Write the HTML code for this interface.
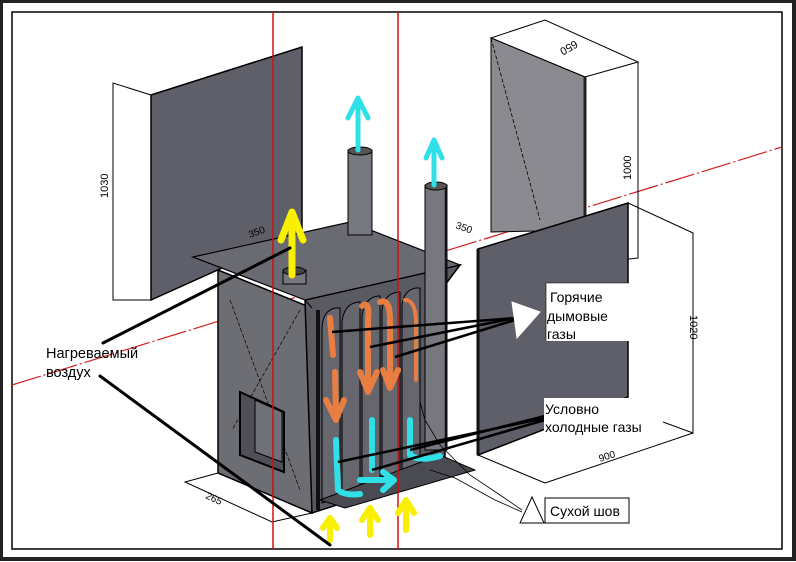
<!DOCTYPE html>
<html><head><meta charset="utf-8"><style>
html,body{margin:0;padding:0;background:#fff;}
svg{display:block;}
text{font-family:"Liberation Sans","DejaVu Sans",sans-serif;}
</style></head><body>
<svg width="796" height="562" viewBox="0 0 796 562" xmlns="http://www.w3.org/2000/svg">
<rect x="0" y="0" width="796" height="562" fill="#fff"/>
<rect x="1" y="1" width="793" height="558" fill="none" stroke="#222" stroke-width="4"/>
<rect x="12" y="12" width="770" height="537" fill="none" stroke="#000" stroke-width="1.5"/>

<line x1="12" y1="385" x2="782" y2="147" stroke="#d02020" stroke-width="1.2" stroke-dasharray="30,3,2,3"/>

<polygon points="151,95 302,47 302,232 151,300" fill="#5f5f69" stroke="#000" stroke-width="1.5"/>
<polyline points="151,95 113,83 113,300 151,300" fill="none" stroke="#000" stroke-width="1"/>
<text x="0" y="0" font-size="11" transform="translate(108,198) rotate(-90)" fill="#000">1030</text>

<polygon points="491,38 545,20 638,62 585,77" fill="#fff" stroke="#000" stroke-width="1"/>
<polygon points="491,38 585,77 585,230 491,232" fill="#8a8a90" stroke="#000" stroke-width="1"/>
<line x1="491" y1="38" x2="540" y2="220" stroke="#000" stroke-width="0.8" stroke-dasharray="4,2"/>
<line x1="585" y1="77" x2="585" y2="230" stroke="#222" stroke-width="3"/>
<polyline points="638,62 638,258 600,262" fill="none" stroke="#000" stroke-width="1"/>
<text x="0" y="0" font-size="11" transform="translate(575,40) rotate(150)" fill="#000">650</text>
<text x="0" y="0" font-size="11" transform="translate(631,180) rotate(-90)" fill="#000">1000</text>

<polygon points="478,249 628,203 628,397 478,455" fill="#5f5f69" stroke="#000" stroke-width="1.5"/>
<line x1="478" y1="249" x2="478" y2="455" stroke="#111" stroke-width="3"/>
<polyline points="628,203 693,233 693,433 663,422" fill="none" stroke="#000" stroke-width="1"/>
<polyline points="545,483 693,433" fill="none" stroke="#000" stroke-width="1"/>
<polyline points="478,455 545,483" fill="none" stroke="#000" stroke-width="1"/>
<text x="0" y="0" font-size="11" transform="translate(690,315) rotate(90)" fill="#000">1020</text>
<text x="0" y="0" font-size="10" transform="translate(600,462) rotate(-18)" fill="#000">900</text>

<polygon points="218,270 312,308 312,513 218,473" fill="#6d6d74" stroke="#000" stroke-width="1.5"/>
<polygon points="305,300 460,265 445,285 445,470 312,513" fill="#5a5a62" stroke="#000" stroke-width="1.5"/>
<line x1="230" y1="300" x2="300" y2="490" stroke="#000" stroke-width="0.7" stroke-dasharray="4,2"/>
<line x1="300" y1="310" x2="232" y2="430" stroke="#000" stroke-width="0.7" stroke-dasharray="4,2"/>
<polygon points="240,392 284,412 284,472 240,455" fill="#4f4f58" stroke="#000" stroke-width="2"/>
<polygon points="255,400 282,412 282,462 255,452" fill="#707078" stroke="#000" stroke-width="1"/>
<g stroke="#000" stroke-width="1" fill="#66666e">
<path d="M322,330 Q322,310 336,308 L340,308 L340,498 L322,503 Z"/>
<path d="M342,322 Q344,304 358,302 L360,302 L360,493 L342,497 Z"/>
<path d="M362,316 Q364,298 378,296 L380,296 L380,488 L362,492 Z"/>
<path d="M382,310 Q384,294 398,292 L400,292 L400,483 L382,487 Z"/>
<path d="M402,305 Q404,290 416,288 L420,288 L420,478 L402,482 Z"/>
</g>
<line x1="318" y1="310" x2="318" y2="510" stroke="#111" stroke-width="4"/>
<polygon points="320,500 440,455 475,470 345,508" fill="#4a4a52" stroke="#000" stroke-width="1"/>
<polyline points="218,473 185,482 272,522 312,513" fill="none" stroke="#000" stroke-width="1"/>
<text x="0" y="0" font-size="10" transform="translate(205,498) rotate(25)" fill="#000">265</text>

<polygon points="193,257 350,222 460,265 305,300" fill="#6a6a72" stroke="#000" stroke-width="1.2"/>
<polyline points="305,300 312,308" stroke="#000" fill="none"/>
<text x="0" y="0" font-size="10" transform="translate(250,238) rotate(-20)" fill="#000">350</text>
<text x="0" y="0" font-size="10" transform="translate(455,228) rotate(20)" fill="#000">350</text>

<rect x="348" y="150" width="24" height="85" fill="#77777f" stroke="#000" stroke-width="1"/>
<ellipse cx="360" cy="151" rx="12" ry="4" fill="#555" stroke="#000"/>
<rect x="425" y="185" width="22" height="265" fill="#77777f" stroke="#000" stroke-width="1"/>
<line x1="446" y1="185" x2="446" y2="450" stroke="#111" stroke-width="2.5"/>
<ellipse cx="436" cy="186" rx="11" ry="4" fill="#555" stroke="#000"/>
<rect x="283" y="270" width="23" height="14" fill="#77777f" stroke="#000"/>
<ellipse cx="294" cy="271" rx="11" ry="4" fill="#444" stroke="#000"/>

<line x1="273" y1="12" x2="273" y2="549" stroke="#d01010" stroke-width="1.5"/>
<line x1="398" y1="12" x2="398" y2="549" stroke="#d01010" stroke-width="1.5"/>

<g stroke="#30e0e8" stroke-width="5" fill="none" stroke-linecap="round" stroke-linejoin="round">
<path d="M358,150 L358,100 M348,118 L358,98 L368,118"/>
<path d="M434,185 L434,140 M426,158 L434,140 L442,158"/>
</g>
<g stroke="#f8f000" stroke-width="7" fill="none" stroke-linecap="round" stroke-linejoin="round">
<path d="M292,275 L292,215 M281,240 L292,212 L303,240"/>
</g>
<g stroke="#f08040" stroke-width="6" fill="none" stroke-linecap="round" stroke-linejoin="round" opacity="0.95">
<path d="M330,318 L333,355"/>
<path d="M335,372 L336,418 M326,400 L336,420 M344,400 L336,420"/>
<path d="M362,306 Q370,300 368,320 L368,390 M360,372 L368,392 M377,372 L368,392"/>
<path d="M380,302 Q390,298 390,320 L390,385 M383,370 L390,388 M398,370 L390,388"/>
<path d="M405,300 Q415,300 416,320 L416,380" stroke-width="4" stroke-dasharray="3,2"/>
</g>
<g stroke="#30e0e8" stroke-width="6" fill="none" stroke-linecap="round" stroke-linejoin="round">
<path d="M336,440 L338,490 Q345,496 360,494"/>
<path d="M360,480 L392,480 M383,472 L394,480 M383,490 L394,480"/>
<path d="M372,420 L372,470" stroke-dasharray="4,2"/>
<path d="M410,420 L410,455 Q420,462 440,456"/>
</g>
<g stroke="#f8f000" stroke-width="6" fill="none" stroke-linecap="round" stroke-linejoin="round">
<path d="M330,540 L330,522 M323,528 L330,518 L337,528"/>
<path d="M370,535 L370,512 M362,520 L370,508 L378,520"/>
<path d="M406,530 L406,505 M398,513 L406,500 L414,513"/>
</g>

<g stroke="#000" stroke-width="3" stroke-linecap="round">
<line x1="103" y1="343" x2="290" y2="248"/>
<line x1="100" y1="376" x2="330" y2="545"/>
</g>
<g stroke="#000" stroke-width="2.5">
<line x1="515" y1="318" x2="332" y2="332"/>
<line x1="515" y1="318" x2="370" y2="347"/>
<line x1="515" y1="320" x2="395" y2="357"/>
<line x1="545" y1="418" x2="338" y2="462"/>
<line x1="545" y1="420" x2="372" y2="470"/>
<line x1="545" y1="416" x2="410" y2="450"/>
</g>
<polygon points="512,302 540,312 517,338" fill="#fff" stroke="#fff"/>
<polyline points="522,510 500,495 470,475 440,445 425,420 420,402" fill="none" stroke="#000" stroke-width="0.8"/>
<polyline points="522,512 495,500 455,478 430,470" fill="none" stroke="#000" stroke-width="0.8"/>

<text x="46" y="358" font-size="14.5" fill="#000">Нагреваемый</text>
<text x="46" y="377" font-size="14.5" fill="#000">воздух</text>

<rect x="546" y="283" width="83" height="58" fill="#fff"/>
<polyline points="546,341 546,283 629,283" fill="none" stroke="#000" stroke-width="0.6"/>
<text x="550" y="302" font-size="14" fill="#000">Горячие</text>
<text x="547" y="321" font-size="14" fill="#000">дымовые</text>
<text x="547" y="339" font-size="14" fill="#000">газы</text>

<rect x="544" y="398" width="114" height="38" fill="#fff"/>
<text x="545" y="414" font-size="14" fill="#000">Условно</text>
<text x="545" y="432" font-size="14" fill="#000">холодные газы</text>

<polygon points="532,497 544,523 520,523" fill="#fff" stroke="#000" stroke-width="1"/>
<rect x="545" y="498" width="84" height="25" fill="#fff" stroke="#000" stroke-width="1"/>
<text x="550" y="516" font-size="14" fill="#000">Сухой шов</text>
</svg>
</body></html>
